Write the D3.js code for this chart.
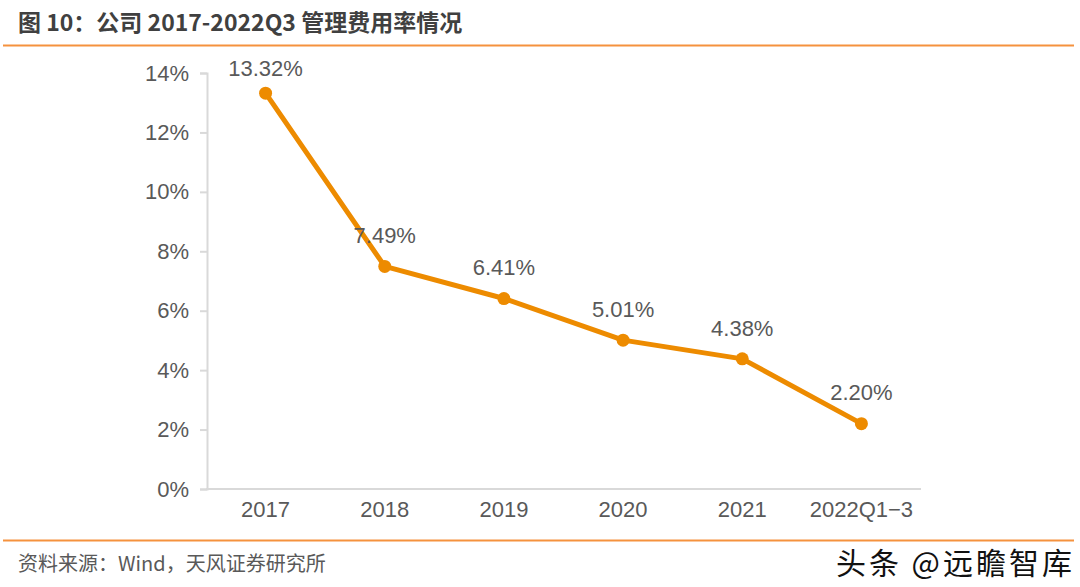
<!DOCTYPE html>
<html>
<head>
<meta charset="utf-8">
<script src="https://cdn.jsdelivr.net/npm/d3@7"></script>
<style>
  body { margin: 0; background: #fff; }
  svg { display: block; }
</style>
</head>
<body>
<div id="chart"></div>
<script>
// data
const years  = ["2017", "2018", "2019", "2020", "2021", "2022Q1\u22123"];
const ratios = [13.32, 7.49, 6.41, 5.01, 4.38, 2.20];
const yTicks = [0, 2, 4, 6, 8, 10, 12, 14];

const W = 1080, H = 587;
const orange = "#ED8B00";
const grey   = "#595959";
const latin  = "'Liberation Sans', Arial, sans-serif";
const cjk    = "'Noto Sans CJK SC', sans-serif";

const svg = d3.select("#chart").append("svg")
  .attr("width", W).attr("height", H)
  .style("font-family", latin);

// title + rules
svg.append("text")
  .attr("x", 18).attr("y", 31)
  .attr("font-size", 23).attr("font-weight", "bold").attr("fill", "#404040")
  .style("font-family", cjk)
  .text("图 10：公司 2017-2022Q3 管理费用率情况");

svg.append("line").attr("x1", 3).attr("x2", 1074).attr("y1", 45.5).attr("y2", 45.5)
  .attr("stroke", "#F5923E").attr("stroke-width", 2);
svg.append("line").attr("x1", 3).attr("x2", 1074).attr("y1", 540.5).attr("y2", 540.5)
  .attr("stroke", "#F5923E").attr("stroke-width", 2);

// scales
const x = d3.scaleBand().domain(years).range([206, 921]);
const y = d3.scaleLinear().domain([0, 14]).range([489, 73]);

// y axis
const yAxis = svg.append("g")
  .attr("transform", "translate(207,0)")
  .call(d3.axisLeft(y).tickValues(yTicks).tickSize(7).tickPadding(11).tickFormat(d => d + "%"));
yAxis.select(".domain").attr("stroke", "#D9D9D9").attr("stroke-width", 2);
yAxis.selectAll(".tick line").attr("stroke", "#D9D9D9").attr("stroke-width", 2);
yAxis.selectAll(".tick text").attr("fill", grey).attr("font-size", 22)
  .style("font-family", latin);

// x axis
const xAxis = svg.append("g")
  .attr("transform", "translate(0,489)")
  .call(d3.axisBottom(x).tickSize(0).tickPadding(12));
xAxis.select(".domain").attr("stroke", "#D9D9D9").attr("stroke-width", 2)
  .attr("d", "M206,0H921");
xAxis.selectAll(".tick text").attr("fill", grey).attr("font-size", 22)
  .style("font-family", latin);

// line
const cx = d => x(d) + x.bandwidth() / 2;
const pts = years.map((d, i) => ({ cat: d, v: ratios[i] }));

svg.append("path")
  .datum(pts)
  .attr("fill", "none")
  .attr("stroke", orange)
  .attr("stroke-width", 5)
  .attr("stroke-linejoin", "round")
  .attr("d", d3.line().x(d => cx(d.cat)).y(d => y(d.v)));

svg.selectAll("circle.pt")
  .data(pts).enter()
  .append("circle")
    .attr("class", "pt")
    .attr("cx", d => cx(d.cat))
    .attr("cy", d => y(d.v))
    .attr("r", 6.5)
    .attr("fill", orange);

// data labels
svg.selectAll("text.lbl")
  .data(pts).enter()
  .append("text")
    .attr("class", "lbl")
    .attr("x", d => cx(d.cat))
    .attr("y", d => Math.max(y(d.v) - 31, 68))
    .attr("dy", "0.35em")
    .attr("text-anchor", "middle")
    .attr("font-size", 22)
    .attr("fill", grey)
    .text(d => d.v.toFixed(2) + "%");

// source
svg.append("text")
  .attr("x", 18).attr("y", 571)
  .attr("font-size", 20).attr("fill", grey)
  .style("font-family", cjk)
  .text("资料来源：Wind，天风证券研究所");

// watermark
svg.append("text")
  .attr("x", 1075).attr("y", 574)
  .attr("text-anchor", "end")
  .attr("font-size", 30)
  .attr("letter-spacing", 3)
  .attr("fill", "#111")
  .attr("stroke", "#fff").attr("stroke-width", 1).attr("paint-order", "stroke")
  .style("font-family", cjk)
  .text("头条 @远瞻智库");
</script>
</body>
</html>
